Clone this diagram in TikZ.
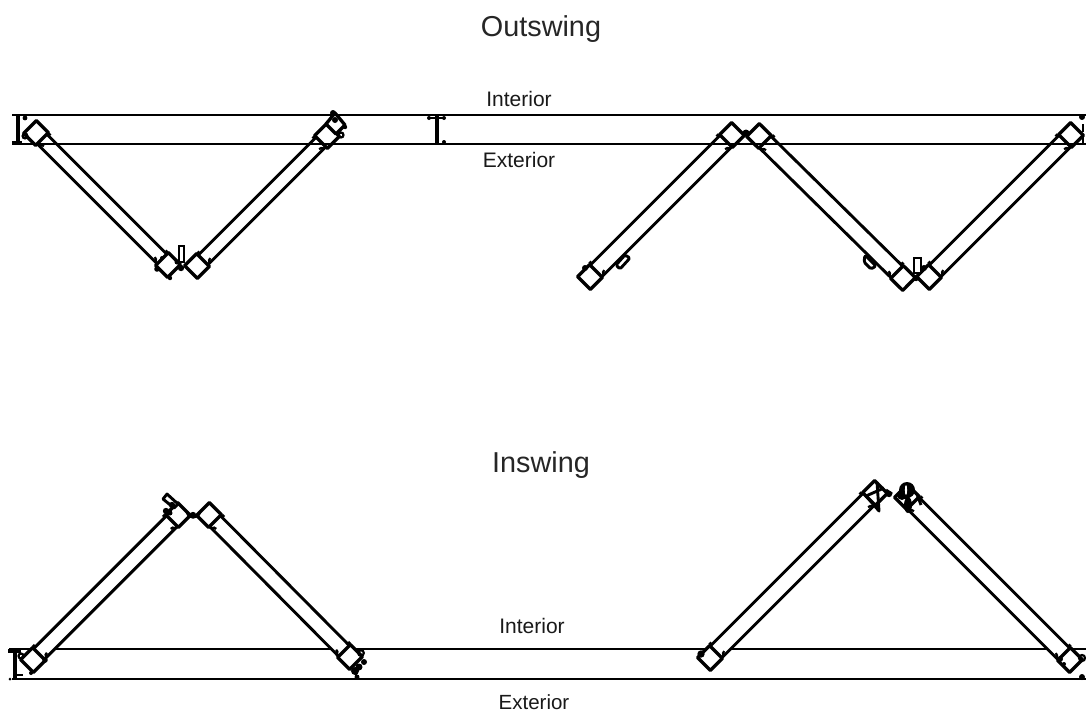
\documentclass[tikz,border=0pt]{standalone}
\usepackage{fontspec}
\setmainfont{Liberation Sans}
\tikzset{
  railline/.style={line width=2.9pt,black},
  wall/.style={line width=2.9pt,black,line join=round},
  stilewall/.style={line width=3.3pt,black,line join=round},
  thin detail/.style={line width=2.2pt,black},
  title/.style={font=\fontsize{28.8}{32}\selectfont,text=black!85,inner sep=0pt},
  sidelabel/.style={font=\fontsize{21}{25}\selectfont,text=black!90,inner sep=0pt}
}
% leaf: stile centre 1, stile centre 2, half width of the glass
\newcommand{\leafpanel}[5]{%
  \pgfmathsetmacro{\leafang}{atan2(-(#4-#2),#3-#1)}%
  \pgfmathsetmacro{\leaflen}{veclen(#3-#1,#4-#2)}%
  \begin{scope}[shift={(#1,#2)},rotate=\leafang]
    \fill[white] (7,-#5) rectangle (\leaflen-7,#5);
    \draw[wall] (7,-#5) -- (\leaflen-7,-#5) (7,#5) -- (\leaflen-7,#5);
    \draw[stilewall,fill=white] (-8.5,-9) rectangle (8.5,9);
    \draw[stilewall,fill=white] (\leaflen-8.5,-9) rectangle (\leaflen+8.5,9);
    \draw[thin detail] (11,#5) .. controls (12,#5-2.5) and (13,#5-3) .. (15,#5-3)
      (\leaflen-11,#5) .. controls (\leaflen-12,#5-2.5) and (\leaflen-13,#5-3) .. (\leaflen-15,#5-3);
    \draw[thin detail] (9,-#5-2) -- (12,-#5-2) (\leaflen-9,-#5-2) -- (\leaflen-12,-#5-2);
  \end{scope}}
\begin{document}
\begin{tikzpicture}[x=1pt,y=-1pt]
\useasboundingbox (0,0) rectangle (1086,713);
\fill[white] (0,0) rectangle (1086,713);
% inswing rails (under the leaves)
\draw[railline] (9,649) -- (1086,649);
\draw[railline] (12,679) -- (1086,679);
% outswing left pair
\leafpanel{36}{133}{168}{265}{6.8}
\leafpanel{197}{266}{327}{136}{6.8}
% outswing right triple
\leafpanel{590}{277}{732}{135}{8.2}
\leafpanel{759}{136}{903}{278}{8.2}
\leafpanel{929}{277}{1071}{135}{8.2}
% outswing rails (over the leaves)
\draw[railline] (12,115) -- (1086,115);
\draw[railline] (12,144) -- (1086,144);
% inswing left pair
\leafpanel{33}{660}{178}{515}{7.6}
\leafpanel{209}{515}{350}{657}{7.6}
% inswing right pair
\leafpanel{710}{658}{875}{493}{8.2}
\leafpanel{907}{497}{1070}{660}{8.2}
% jambs
\draw[stilewall] (18,116) -- (18,143);
\fill (25,118) circle (2.4);
\draw[stilewall] (12,143) -- (22,143);
\draw[thin detail] (25,136) circle (2.4);
\draw[stilewall] (437,116) -- (437,143);
\fill (429,118) circle (2) (444,118) circle (2) (444,142) circle (2);
\draw[wall] (429,118) -- (444,118);
\draw[stilewall] (15,650) -- (15,678);
\draw[stilewall] (8,651) -- (21,651);
\draw[wall] (15,675) -- (23,675);
\fill (10,679) circle (1.5);
\draw[thin detail] (21,656) circle (2.5);
\fill (1082,117) circle (3);
\fill (1082,677) circle (3);
\draw[wall] (1083,124) -- (1083,132);
\draw[wall] (1083,136) -- (1083,143);
% outswing left details
\draw[thin detail,fill=white] (179,246) rectangle (184,262);
\fill (181,268) circle (3.2);
\fill (177,262) circle (2.5);
\fill (157,269) circle (2.8) (170,278) circle (2.2) (162,258) circle (2);
\fill (333,113) circle (3);
\draw[stilewall,fill=white] (335,113) -- (345,125) -- (336,134) -- (326,124) -- cycle;
\fill (345,127) circle (2.2);
\draw[thin detail] (341,135) circle (2.5);
\fill (335,120) circle (3);
% outswing right details
\draw[thin detail,fill=white] (914,258) rectangle (921,273);
\fill (916,278) circle (3.2);
\fill (746,133) circle (3.5);
\fill (585,268) circle (3) (924,268) circle (3);
\draw[wall,rounded corners=1.5pt,fill=white] (616,265) -- (625,255) -- (630,258) -- (620,269) -- cycle;
\draw[wall,rounded corners=1.5pt,fill=white] (865,255) -- (876,266) -- (871,269) -- (864,262) -- cycle;
% inswing left details
\draw[wall,fill=white] (163,499) -- (167,494) -- (178,504) -- (174,508) -- cycle;
\fill (193,515) circle (3.2);
\draw[wall] (187,512) .. controls (189,519) and (197,519) .. (200,512);
\fill (166,511) circle (3.2) (172,505) circle (3.2) (170,513) circle (2.5);
\fill (45,660) circle (2.8) (31,673) circle (2);
\draw[thin detail] (361,653) circle (2.8);
\fill (364,662) circle (3) (355,671) circle (4) (359,667) circle (3.5) (357,677) circle (2.5);
% inswing right details
\draw[wall] (877,482) -- (879,511) -- (866,496) -- (884,488);
\draw[wall] (886,490) -- (892,494);
\fill (889,494) circle (3.2);
\fill (907,490) circle (8) (908,505) ellipse (4 and 8) (902,495) circle (5);
\fill[white] (906,490) ellipse (1.1 and 5);
\draw[wall] (917,494) -- (921,505);
\draw[thin detail] (701,654) circle (2.5);
\draw[thin detail] (1082,658) circle (3);
\fill (1060,659) circle (3) (1064,664) circle (2);
% labels
\node[title] (outtitle) at (541,29) {Outswing};
\node[sidelabel] (outint) at (519,99) {Interior};
\node[sidelabel] (outext) at (519,160) {Exterior};
\node[title] (intitle) at (541,465) {Inswing};
\node[sidelabel] (inint) at (532,626) {Interior};
\node[sidelabel,font=\fontsize{20.5}{24}\selectfont] (inext) at (534,702) {Exterior};
\end{tikzpicture}
\end{document}
